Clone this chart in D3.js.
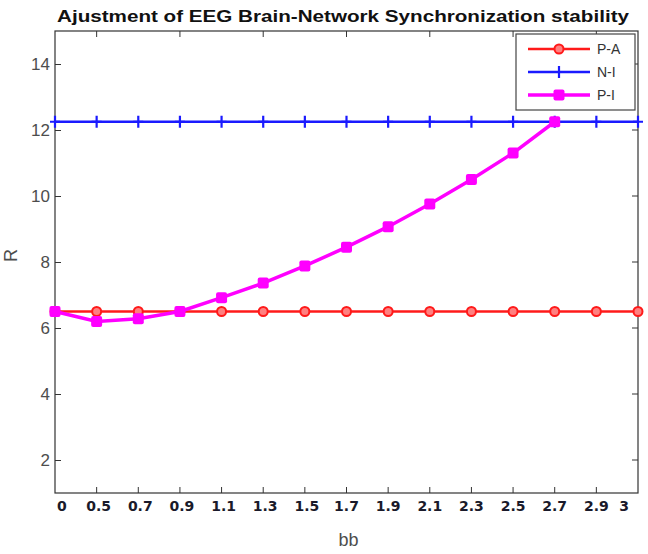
<!DOCTYPE html>
<html>
<head>
<meta charset="utf-8">
<script src="https://cdn.jsdelivr.net/npm/d3@7"></script>
<style>
  body { margin: 0; background: #fff; }
  svg { display: block; }
  .axis text { font-family: Arial, "Liberation Sans", sans-serif; }
</style>
</head>
<body>
<div id="chart"></div>
<script>
// x categories (bb), equally spaced on the axis
var bbLabels = ["0", "0.5", "0.7", "0.9", "1.1", "1.3", "1.5", "1.7", "1.9", "2.1", "2.3", "2.5", "2.7", "2.9", "3"];

// series values
var paValues = [6.5, 6.5, 6.5, 6.5, 6.5, 6.5, 6.5, 6.5, 6.5, 6.5, 6.5, 6.5, 6.5, 6.5, 6.5];
var niValues = [12.25, 12.25, 12.25, 12.25, 12.25, 12.25, 12.25, 12.25, 12.25, 12.25, 12.25, 12.25, 12.25, 12.25, 12.25];
var piValues = [6.5, 6.2, 6.28, 6.5, 6.92, 7.36, 7.88, 8.45, 9.07, 9.76, 10.5, 11.3, 12.25];

var yTicks = [2, 4, 6, 8, 10, 12, 14];

var width = 648, height = 554;
var margin = {top: 31, right: 10, bottom: 61, left: 55};
var w = width - margin.left - margin.right,
    h = height - margin.top - margin.bottom;

var svg = d3.select("#chart").append("svg")
    .attr("width", width)
    .attr("height", height);

var g = svg.append("g")
    .attr("transform", "translate(" + margin.left + "," + margin.top + ")");

var xScale = d3.scaleLinear().domain([0, bbLabels.length - 1]).range([0, w]);
var yScale = d3.scaleLinear().domain([1, 15]).range([h, 0]);

var axisColor = "#333";

// box
g.append("rect")
    .attr("width", w).attr("height", h)
    .attr("fill", "#fff")
    .attr("stroke", axisColor)
    .attr("stroke-width", 1.2);

// bottom axis (inner ticks at every category)
var xIdx = d3.range(1, bbLabels.length - 1);
g.selectAll(".xtick")
    .data(xIdx)
    .enter().append("line")
    .attr("x1", function (d) { return xScale(d); })
    .attr("x2", function (d) { return xScale(d); })
    .attr("y1", h).attr("y2", h - 6)
    .attr("stroke", axisColor);

// top axis ticks (every other)
g.selectAll(".xtoptick")
    .data(xIdx.filter(function (d) { return d % 2 === 1; }))
    .enter().append("line")
    .attr("x1", function (d) { return xScale(d); })
    .attr("x2", function (d) { return xScale(d); })
    .attr("y1", 0).attr("y2", 6)
    .attr("stroke", axisColor);

// x labels, bold
g.selectAll(".xlab")
    .data(bbLabels)
    .enter().append("text")
    .attr("x", function (d, i) {
        if (i === 0) return xScale(i) + 2;
        if (i === bbLabels.length - 1) return xScale(i) - 9;
        return xScale(i) + (i < 7 ? 2 : 0);
    })
    .attr("y", h + 18)
    .attr("text-anchor", function (d, i) {
        return i === 0 ? "start" : (i === bbLabels.length - 1 ? "end" : "middle");
    })
    .style("font-family", "'DejaVu Sans', Verdana, sans-serif")
    .style("font-weight", "bold")
    .style("font-size", "14px")
    .attr("fill", "#1a1a2a")
    .text(function (d) { return d; });

// y axis left and right ticks
var yAxis = d3.axisLeft(yScale).tickValues(yTicks).tickSize(-6).tickPadding(5);
var yAxisG = g.append("g").attr("class", "axis").call(yAxis);
yAxisG.select(".domain").remove();
yAxisG.selectAll("line").attr("stroke", axisColor);
yAxisG.selectAll("text").style("font-size", "17px").attr("fill", "#4d4d4d");

g.selectAll(".yrtick")
    .data(yTicks)
    .enter().append("line")
    .attr("x1", w).attr("x2", w - 6)
    .attr("y1", function (d) { return yScale(d); })
    .attr("y2", function (d) { return yScale(d); })
    .attr("stroke", axisColor);

// axis titles
svg.append("text")
    .attr("transform", "translate(17," + (margin.top + yScale(8.2)) + ") rotate(-90)")
    .attr("text-anchor", "middle")
    .style("font-family", "Arial, 'Liberation Sans', sans-serif")
    .style("font-size", "18px")
    .attr("fill", "#4d4d4d")
    .text("R");

svg.append("text")
    .attr("x", margin.left + w / 2 + 2)
    .attr("y", 546)
    .attr("text-anchor", "middle")
    .style("font-family", "Arial, 'Liberation Sans', sans-serif")
    .style("font-size", "18px")
    .attr("fill", "#4d4d4d")
    .text("bb");

// title
svg.append("text")
    .attr("x", 343)
    .attr("y", 22)
    .attr("text-anchor", "middle")
    .attr("textLength", 572)
    .attr("lengthAdjust", "spacingAndGlyphs")
    .style("font-family", "Arial, 'Liberation Sans', sans-serif")
    .style("font-weight", "bold")
    .style("font-size", "17px")
    .attr("fill", "#111")
    .text("Ajustment of EEG Brain-Network Synchronization stability");

var line = d3.line()
    .x(function (d, i) { return xScale(i); })
    .y(function (d) { return yScale(d); });

var red = "#ff1a1a", blue = "#1a1aff", magenta = "#ff00ff";

// P-A
g.append("path").datum(paValues)
    .attr("d", line).attr("fill", "none")
    .attr("stroke", red).attr("stroke-width", 2.5);
g.selectAll(".pa").data(paValues).enter().append("circle")
    .attr("cx", function (d, i) { return xScale(i); })
    .attr("cy", function (d) { return yScale(d); })
    .attr("r", 4.5)
    .attr("fill", "#ff8080")
    .attr("stroke", red).attr("stroke-width", 2);

// N-I
g.append("path").datum(niValues)
    .attr("d", line).attr("fill", "none")
    .attr("stroke", blue).attr("stroke-width", 2.5);
g.selectAll(".ni").data(niValues).enter().append("path")
    .attr("transform", function (d, i) { return "translate(" + xScale(i) + "," + yScale(d) + ")"; })
    .attr("d", "M-5,0H5M0,-6V6")
    .attr("stroke", blue).attr("stroke-width", 2.2);

// P-I
g.append("path").datum(piValues)
    .attr("d", line).attr("fill", "none")
    .attr("stroke", magenta).attr("stroke-width", 3.5);
g.selectAll(".pi").data(piValues).enter().append("rect")
    .attr("x", function (d, i) { return xScale(i) - 5.5; })
    .attr("y", function (d) { return yScale(d) - 5.5; })
    .attr("width", 11).attr("height", 11)
    .attr("rx", 2)
    .attr("fill", magenta);

// legend
var legend = svg.append("g").attr("transform", "translate(516,34)");
legend.append("rect")
    .attr("width", 119).attr("height", 76)
    .attr("fill", "#fff")
    .attr("stroke", "#444").attr("stroke-width", 1.2);

var legendItems = [
    {name: "P-A", color: red, mark: "circle"},
    {name: "N-I", color: blue, mark: "plus"},
    {name: "P-I", color: magenta, mark: "square"}
];
legendItems.forEach(function (d, i) {
    var y = 15 + i * 23;
    var item = legend.append("g").attr("transform", "translate(0," + y + ")");
    item.append("line")
        .attr("x1", 12).attr("x2", 74)
        .attr("stroke", d.color).attr("stroke-width", d.mark === "square" ? 3.5 : 2.5);
    if (d.mark === "circle") {
        item.append("circle").attr("cx", 43).attr("r", 4.5)
            .attr("fill", "#ff8080").attr("stroke", d.color).attr("stroke-width", 2);
    } else if (d.mark === "plus") {
        item.append("path").attr("transform", "translate(43,0)")
            .attr("d", "M-5,0H5M0,-6V6")
            .attr("stroke", d.color).attr("stroke-width", 2.2);
    } else {
        item.append("rect").attr("x", 37.5).attr("y", -5.5)
            .attr("width", 11).attr("height", 11).attr("rx", 2)
            .attr("fill", d.color);
    }
    item.append("text")
        .attr("x", 81).attr("y", 5)
        .style("font-family", "Arial, 'Liberation Sans', sans-serif")
        .style("font-size", "14px")
        .attr("fill", "#333")
        .text(d.name);
});
</script>
</body>
</html>
